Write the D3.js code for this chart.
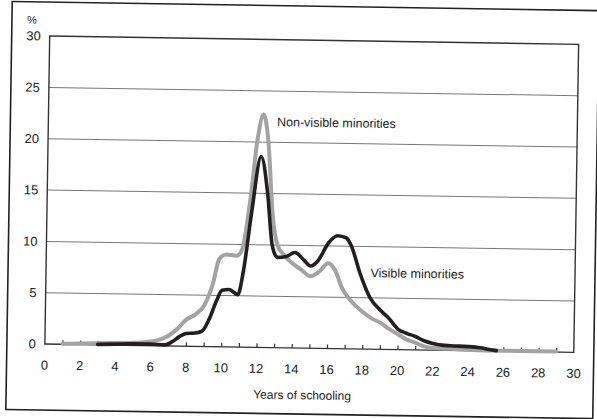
<!DOCTYPE html>
<html>
<head>
<meta charset="utf-8">
<script src="https://cdn.jsdelivr.net/npm/d3@7.9.0/dist/d3.min.js"></script>
<style>
  body { margin: 0; background: #fff; }
  text { font-family: "Liberation Sans Narrow", "Arial Narrow", "Liberation Sans", Arial, sans-serif; fill: #222; }
</style>
</head>
<body>
<svg width="597" height="419"></svg>
<script>
// years of schooling / percent
const nonVisibleYears = [1, 2, 3, 4, 5, 6, 6.5, 7, 7.5, 8, 8.5, 9, 9.5, 9.8, 10.2, 10.8, 11.1, 11.5, 11.9, 12.2, 12.5, 12.8, 13.1, 13.5, 14, 14.5, 15, 15.5, 16, 16.4, 16.8, 17.3, 18, 18.5, 19, 19.5, 20, 20.5, 21, 21.5, 22, 23, 24, 25, 26, 27, 28, 29];
const nonVisibleValues = [0.05, 0.1, 0.15, 0.2, 0.25, 0.4, 0.6, 1.0, 1.7, 2.6, 3.1, 4.0, 6.3, 8.5, 9.0, 8.9, 9.5, 14, 20.5, 22.7, 20, 13, 10.0, 9.0, 8.2, 7.6, 7.0, 7.5, 8.3, 7.6, 5.9, 4.7, 3.6, 3.0, 2.6, 2.0, 1.5, 1.0, 0.7, 0.35, 0.2, 0.15, 0.1, 0.05, 0.05, 0.05, 0.05, 0.05];

const visibleYears = [3, 4, 5, 6, 6.8, 7.2, 7.6, 8, 8.5, 8.9, 9.3, 9.7, 10, 10.4, 10.9, 11.2, 11.6, 12.1, 12.5, 12.8, 13.1, 13.6, 14.1, 14.6, 15, 15.4, 16, 16.5, 17, 17.3, 17.8, 18.4, 19, 19.5, 20, 20.5, 21, 21.5, 22, 22.5, 23, 24, 24.7, 25.2, 25.6];
const visibleValues = [0.05, 0.1, 0.15, 0.15, 0.1, 0.4, 0.9, 1.25, 1.3, 1.5, 2.7, 4.5, 5.5, 5.6, 5.1, 7.5, 13, 18.6, 15, 10, 8.8, 8.9, 9.3, 8.6, 8.0, 8.5, 10.3, 11.0, 10.8, 10, 7.4, 5.0, 3.8, 3.0, 2.0, 1.6, 1.3, 0.9, 0.65, 0.5, 0.45, 0.4, 0.3, 0.15, 0.05];

const xTickLabels = [0, 2, 4, 6, 8, 10, 12, 14, 16, 18, 20, 22, 24, 26, 28, 30];
const yTickLabels = [0, 5, 10, 15, 20, 25, 30];

const svg = d3.select('svg');
// the scan is a little tilted
const g = svg.append('g').attr('transform', 'rotate(0.9, 298, 210)');

// outer box
g.append('rect')
  .attr('x', 9).attr('y', 6).attr('width', 587).attr('height', 408)
  .attr('fill', 'none').attr('stroke', '#222').attr('stroke-width', 1.6);

const x = d3.scaleLinear().domain([0, 30]).range([47, 576]);
const y = d3.scaleLinear().domain([0, 30]).range([348, 40]);

// gridlines
g.selectAll('line.grid')
  .data(yTickLabels.filter(d => d > 0 && d < 30))
  .join('line')
  .attr('class', 'grid')
  .attr('x1', x(0)).attr('x2', x(30))
  .attr('y1', d => y(d)).attr('y2', d => y(d))
  .attr('stroke', '#777').attr('stroke-width', 1);

// plot frame
g.append('rect')
  .attr('x', x(0)).attr('y', y(30))
  .attr('width', x(30) - x(0)).attr('height', y(0) - y(30))
  .attr('fill', 'none').attr('stroke', '#333').attr('stroke-width', 1.4);

// minor ticks every year, pointing up
g.append('g')
  .attr('transform', `translate(0,${y(0)})`)
  .call(d3.axisBottom(x).tickValues(d3.range(1, 30)).tickSize(-4).tickFormat(() => ''))
  .call(a => a.select('.domain').remove())
  .call(a => a.selectAll('line').attr('stroke', '#333').attr('stroke-width', 1.2));

// x labels
g.selectAll('text.xlab')
  .data(xTickLabels)
  .join('text')
  .attr('class', 'xlab')
  .attr('x', d => x(d)).attr('y', y(0) + 21).attr('dy', '0.35em')
  .attr('text-anchor', 'middle').attr('font-size', 13)
  .text(d => d);

// y labels
g.selectAll('text.ylab')
  .data(yTickLabels)
  .join('text')
  .attr('class', 'ylab')
  .attr('x', x(0) - 9).attr('y', d => y(d)).attr('dy', '0.35em')
  .attr('text-anchor', 'end').attr('font-size', 13)
  .text(d => d);

g.append('text')
  .attr('x', 29).attr('y', 24).attr('dy', '0.35em')
  .attr('text-anchor', 'middle').attr('font-size', 11)
  .text('%');

g.append('text')
  .attr('x', 305).attr('y', 395).attr('dy', '0.35em')
  .attr('text-anchor', 'middle').attr('font-size', 12)
  .text('Years of schooling');

const line = d3.line()
  .x(d => x(d[0]))
  .y(d => y(d[1]))
  .curve(d3.curveMonotoneX);

g.append('path')
  .datum(d3.zip(nonVisibleYears, nonVisibleValues))
  .attr('d', line)
  .attr('fill', 'none').attr('stroke', '#a3a3a3').attr('stroke-width', 4)
  .attr('stroke-linejoin', 'round').attr('stroke-linecap', 'round');

g.append('path')
  .datum(d3.zip(visibleYears, visibleValues))
  .attr('d', line)
  .attr('fill', 'none').attr('stroke', '#231f20').attr('stroke-width', 3.6)
  .attr('stroke-linejoin', 'round').attr('stroke-linecap', 'round');

g.append('text')
  .attr('x', x(12.97)).attr('y', y(22.0)).attr('dy', '0.35em')
  .attr('font-size', 12.5)
  .text('Non-visible minorities');

g.append('text')
  .attr('x', x(18.4)).attr('y', y(7.44)).attr('dy', '0.35em')
  .attr('font-size', 12.5)
  .text('Visible minorities');
</script>
</body>
</html>
